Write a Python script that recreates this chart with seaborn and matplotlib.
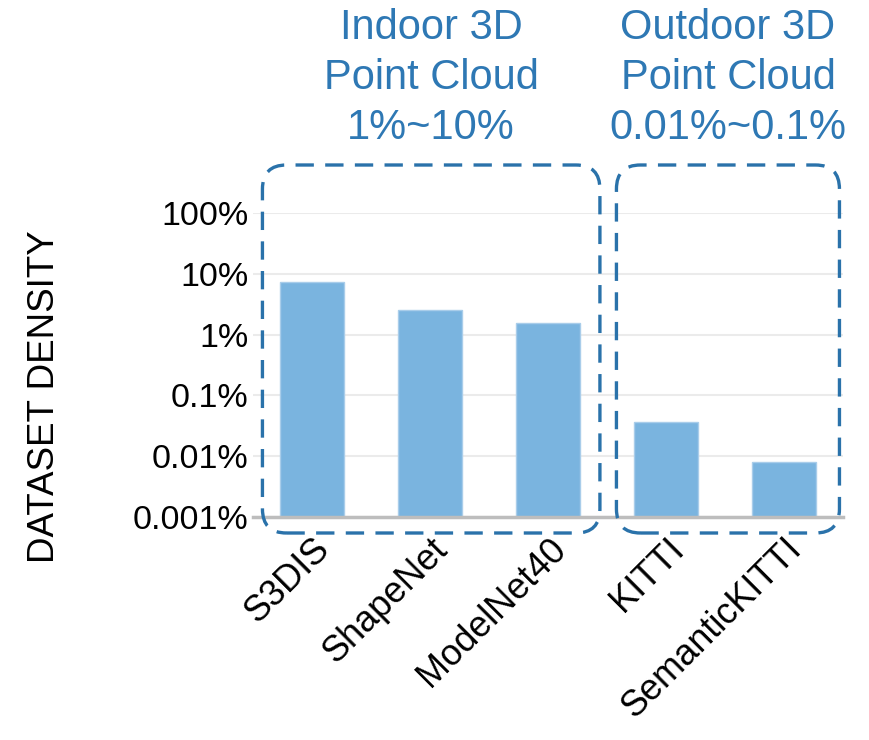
import matplotlib
matplotlib.use("Agg")
import matplotlib.pyplot as plt
import seaborn as sns
import pandas as pd
from matplotlib.patches import FancyBboxPatch
from matplotlib.transforms import IdentityTransform

# Dataset density values (fraction, 1.0 = 100%)
datasets = ["S3DIS", "ShapeNet", "ModelNet40", "KITTI", "SemanticKITTI"]
density = [0.072, 0.025, 0.0155, 0.00036, 0.000081]
tick_values = [1e-5, 1e-4, 1e-3, 1e-2, 1e-1, 1]
tick_labels = ["0.001%", "0.01%", "0.1%", "1%", "10%", "100%"]
group_titles = ["Indoor 3D\nPoint Cloud\n1%~10%", "Outdoor 3D\nPoint Cloud\n0.01%~0.1%"]

sns.set_theme(style="white")
plt.rcParams["font.family"] = ["Liberation Sans", "DejaVu Sans"]

W, H = 869, 740
fig = plt.figure(figsize=(W / 100, H / 100), dpi=100)
ax = fig.add_axes([253 / W, 1 - 517 / H, (843 - 253) / W, (517 - 213) / H])

df = pd.DataFrame({"dataset": datasets, "density": density})
sns.barplot(data=df, x="dataset", y="density", ax=ax, color="#7ab4df",
            saturation=1, width=0.55, edgecolor="#a9cdea", linewidth=1)
ax.set_yscale("log")
ax.set_ylim(1e-5, 1)
ax.set_xlim(-0.5, 4.5)
ax.set_yticks(tick_values)
ax.set_yticklabels(tick_labels)
ax.yaxis.set_minor_locator(matplotlib.ticker.NullLocator())
ax.tick_params(axis="y", labelsize=24.5, length=0, pad=3, colors="black")
ax.tick_params(axis="x", labelsize=26, length=0, pad=6, colors="black")
plt.setp(ax.get_xticklabels(), rotation=45, ha="right", rotation_mode="anchor")
for lbl in ax.get_xticklabels():
    lbl.set_y(-0.02)
ax.set_xlabel("")
ax.set_ylabel("")
ax.grid(axis="y", color="#ebebeb", linewidth=1.5)
ax.set_axisbelow(True)
for side in ["left", "right", "top"]:
    ax.spines[side].set_visible(False)
ax.spines["bottom"].set_color("#bdbdbd")
ax.spines["bottom"].set_linewidth(2.5)

fig.text(45 / W, 1 - 397 / H, "DATASET DENSITY", rotation=90, fontsize=26.5,
         ha="center", va="center", color="black")

# Dashed group frames, placed in pixel space from the bar positions
fig.canvas.draw()
box_color = "#2a72aa"
groups = [(-0.42, 2.44), (2.58, 4.47)]
y_top_px, y_bot_px = 165, 533
for (x0, x1), title in zip(groups, group_titles):
    px0 = ax.transData.transform((x0, 1e-3))[0]
    px1 = ax.transData.transform((x1, 1e-3))[0]
    r = 24
    patch = FancyBboxPatch((px0 + r, H - y_bot_px + r), (px1 - px0) - 2 * r,
                           (y_bot_px - y_top_px) - 2 * r,
                           boxstyle=f"round,pad={r}", transform=IdentityTransform(),
                           fill=False, edgecolor=box_color, linewidth=2.4,
                           linestyle=(0, (5.5, 3.4)), clip_on=False)
    fig.add_artist(patch)
    cx = (px0 + px1) / 2
    fig.text(cx / W, 1 - 78 / H, title, fontsize=30, ha="center", va="center",
             color="#2e78b4", linespacing=1.33)

fig.savefig("out.png", dpi=100)
